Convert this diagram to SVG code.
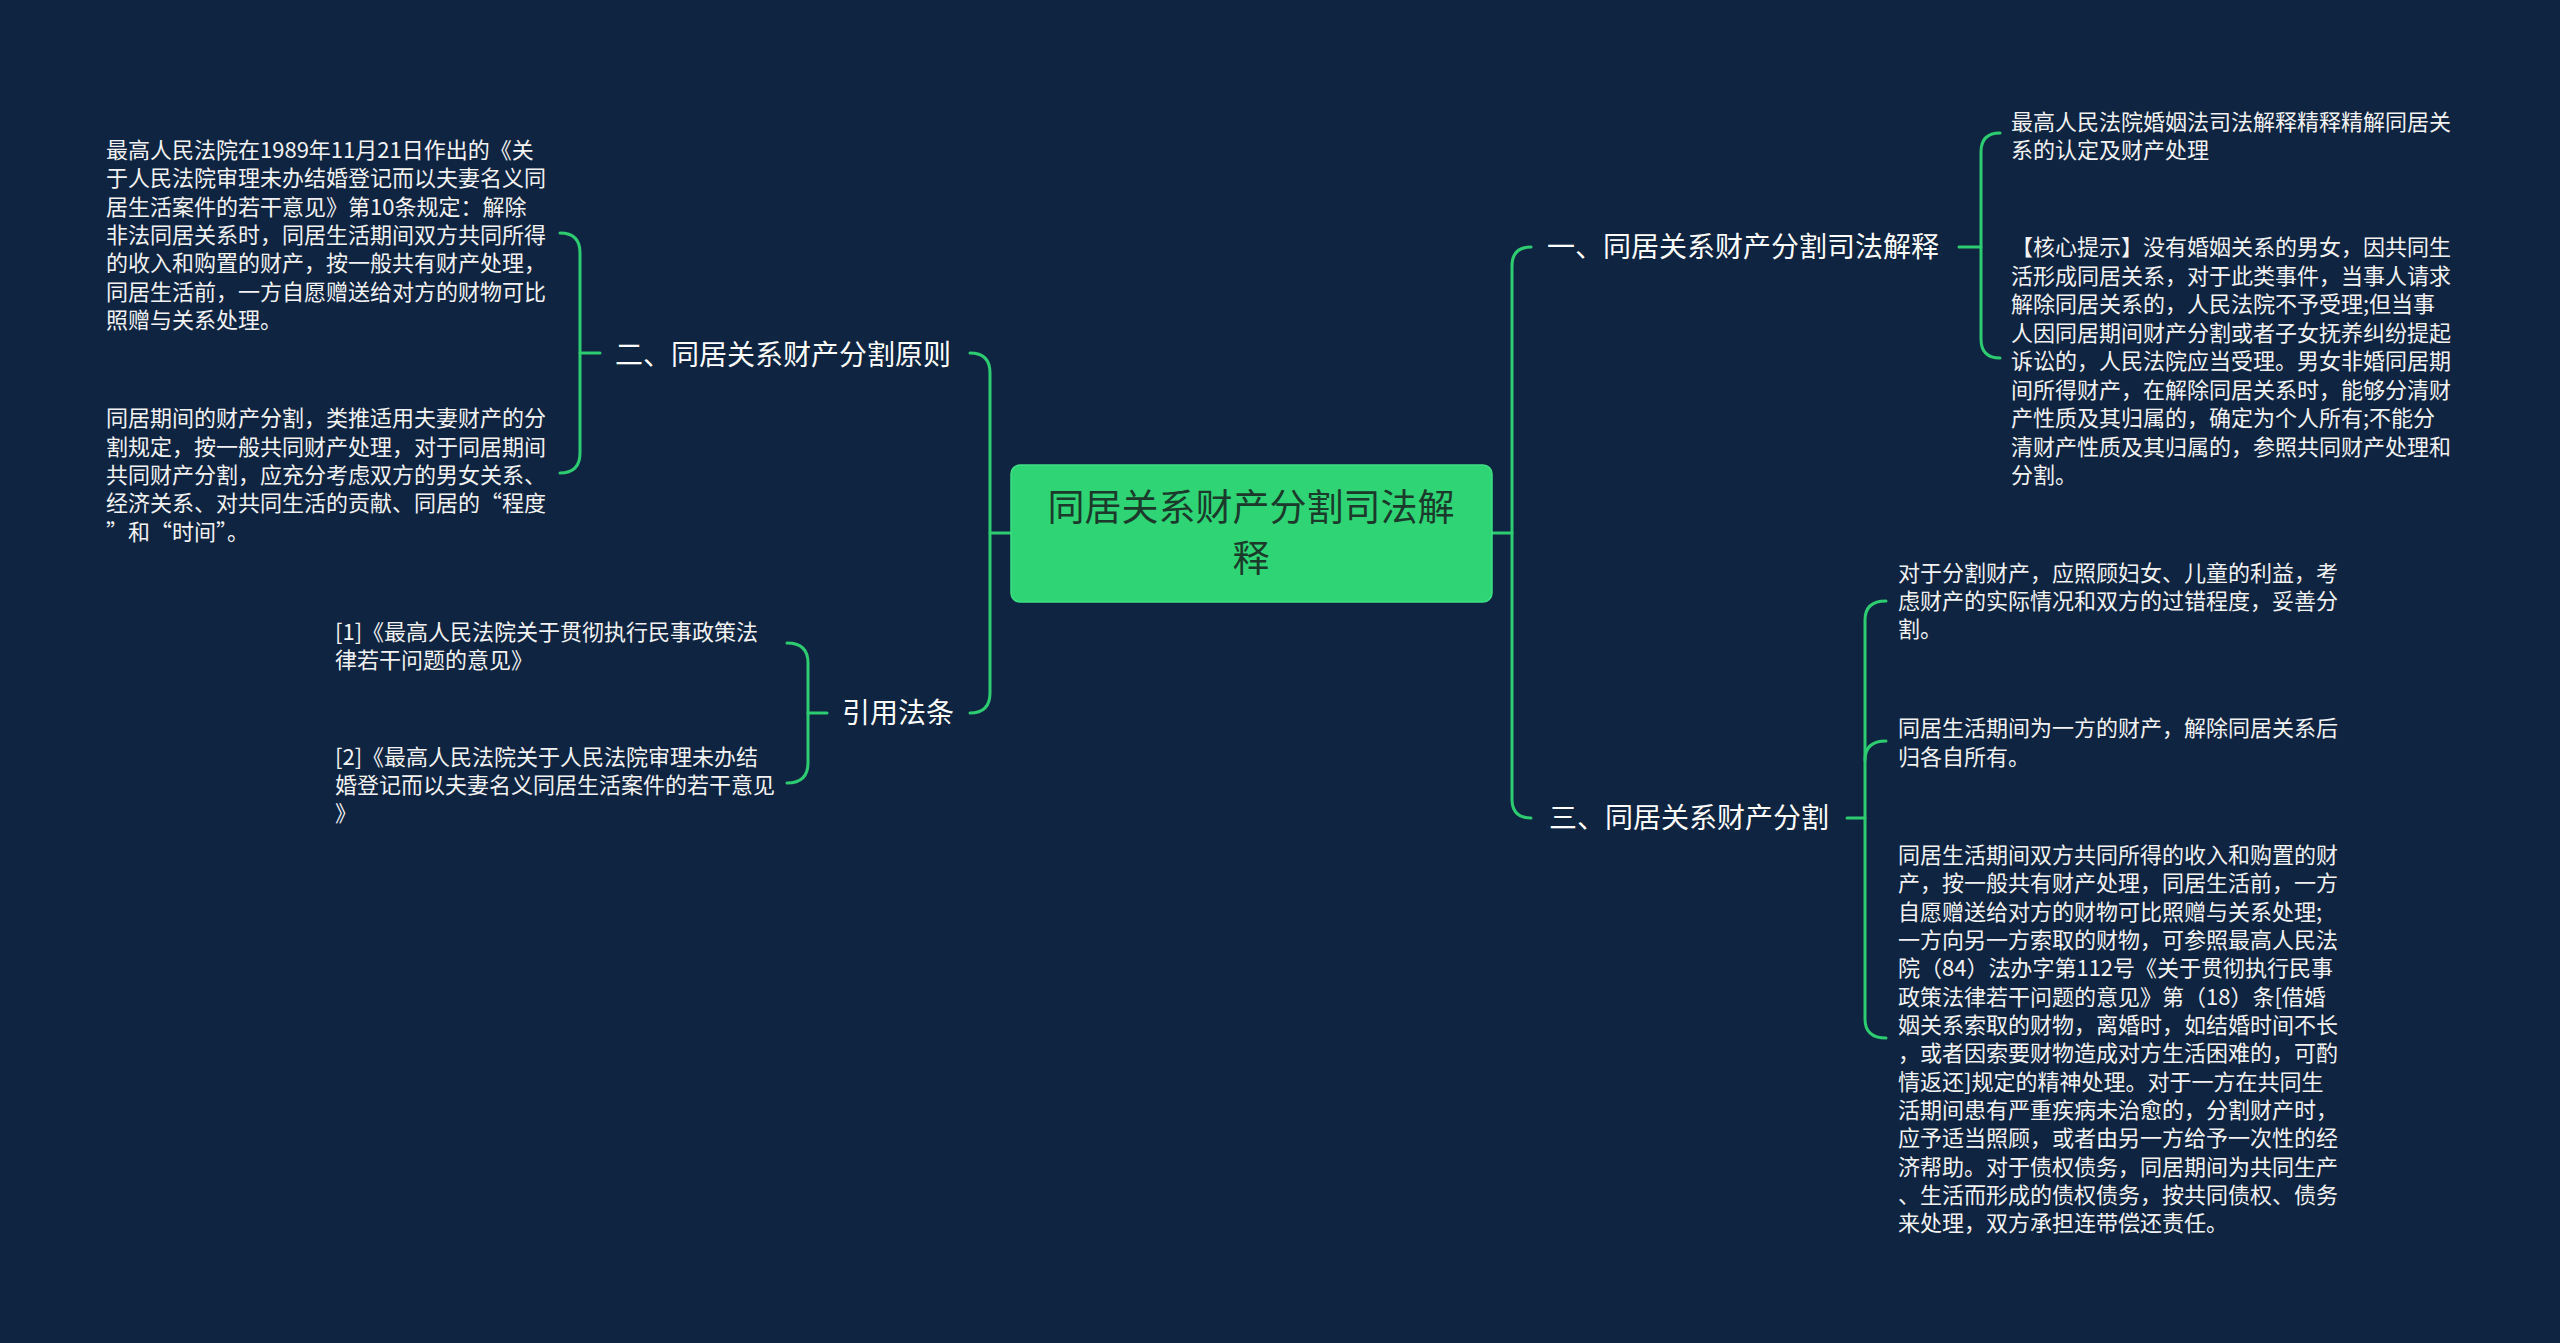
<svg xmlns="http://www.w3.org/2000/svg" width="2560" height="1343" viewBox="0 0 2560 1343">
<style>
.bg{fill:#0f2440}
.ln{fill:none;stroke:#2ecc71;stroke-width:3;stroke-linecap:round}
.t{font-family:"Noto Sans CJK SC","Noto Sans",sans-serif;font-size:22px;fill:#f2f2f2}
.lb{font-family:"Noto Sans CJK SC","Noto Sans",sans-serif;font-size:28px;fill:#ffffff}
.rt{font-family:"Noto Sans CJK SC","Noto Sans",sans-serif;font-size:37px;fill:#1b3a2b;text-anchor:middle}
</style>
<rect class="bg" x="0" y="0" width="2560" height="1343"/>
<g id="connectors">
<path class="ln" d="M1011 533 L990 533"/>
<path class="ln" d="M970 353 Q990 353 990 373 L990 693 Q990 713 970 713"/>
<path class="ln" d="M1492 533 L1512 533"/>
<path class="ln" d="M1531 247 Q1512 247 1512 266 L1512 799 Q1512 818 1531 818"/>
<path class="ln" d="M600 353 L580 353"/>
<path class="ln" d="M560 233 Q580 233 580 253 L580 453 Q580 473 560 473"/>
<path class="ln" d="M827 713 L808 713"/>
<path class="ln" d="M787 643 Q808 643 808 663 L808 763 Q808 783 787 783"/>
<path class="ln" d="M1959 247 L1981 247"/>
<path class="ln" d="M2000 133 Q1981 133 1981 152 L1981 339 Q1981 358 2000 358"/>
<path class="ln" d="M1847 818 L1865 818"/>
<path class="ln" d="M1886 601 Q1865 601 1865 620 L1865 1019 Q1865 1038 1886 1038"/>
<path class="ln" d="M1865 760 Q1865 741 1886 741"/>
</g>
<g id="root">
<rect x="1011" y="465" width="481" height="137" rx="9" fill="#2fd574" stroke="#3ee084" stroke-width="1.5"/>
<text class="rt" x="1251" y="521">同居关系财产分割司法解</text>
<text class="rt" x="1251" y="572">释</text>
</g>
<g id="n2">
<text class="lb" x="615" y="365">二、同居关系财产分割原则</text>
</g>
<g id="n2a">
<text class="t" x="106" y="158">最高人民法院在1989年11月21日作出的《关</text>
<text class="t" x="106" y="186">于人民法院审理未办结婚登记而以夫妻名义同</text>
<text class="t" x="106" y="215">居生活案件的若干意见》第10条规定：解除</text>
<text class="t" x="106" y="243">非法同居关系时，同居生活期间双方共同所得</text>
<text class="t" x="106" y="271">的收入和购置的财产，按一般共有财产处理，</text>
<text class="t" x="106" y="300">同居生活前，一方自愿赠送给对方的财物可比</text>
<text class="t" x="106" y="328">照赠与关系处理。</text>
</g>
<g id="n2b">
<text class="t" x="106" y="426">同居期间的财产分割，类推适用夫妻财产的分</text>
<text class="t" x="106" y="455">割规定，按一般共同财产处理，对于同居期间</text>
<text class="t" x="106" y="483">共同财产分割，应充分考虑双方的男女关系、</text>
<text class="t" x="106" y="511">经济关系、对共同生活的贡献、同居的“程度</text>
<text class="t" x="106" y="540">”和“时间”。</text>
</g>
<g id="nref">
<text class="lb" x="842" y="723">引用法条</text>
</g>
<g id="nref1">
<text class="t" x="335" y="640">[1]《最高人民法院关于贯彻执行民事政策法</text>
<text class="t" x="335" y="668">律若干问题的意见》</text>
</g>
<g id="nref2">
<text class="t" x="335" y="765">[2]《最高人民法院关于人民法院审理未办结</text>
<text class="t" x="335" y="793">婚登记而以夫妻名义同居生活案件的若干意见</text>
<text class="t" x="335" y="821">》</text>
</g>
<g id="n1">
<text class="lb" x="1547" y="257">一、同居关系财产分割司法解释</text>
</g>
<g id="n1a">
<text class="t" x="2011" y="130">最高人民法院婚姻法司法解释精释精解同居关</text>
<text class="t" x="2011" y="158">系的认定及财产处理</text>
</g>
<g id="n1b">
<text class="t" x="2011" y="255">【核心提示】没有婚姻关系的男女，因共同生</text>
<text class="t" x="2011" y="284">活形成同居关系，对于此类事件，当事人请求</text>
<text class="t" x="2011" y="312">解除同居关系的，人民法院不予受理;但当事</text>
<text class="t" x="2011" y="341">人因同居期间财产分割或者子女抚养纠纷提起</text>
<text class="t" x="2011" y="369">诉讼的，人民法院应当受理。男女非婚同居期</text>
<text class="t" x="2011" y="398">间所得财产，在解除同居关系时，能够分清财</text>
<text class="t" x="2011" y="426">产性质及其归属的，确定为个人所有;不能分</text>
<text class="t" x="2011" y="455">清财产性质及其归属的，参照共同财产处理和</text>
<text class="t" x="2011" y="483">分割。</text>
</g>
<g id="n3">
<text class="lb" x="1549" y="828">三、同居关系财产分割</text>
</g>
<g id="n3a">
<text class="t" x="1898" y="581">对于分割财产，应照顾妇女、儿童的利益，考</text>
<text class="t" x="1898" y="609">虑财产的实际情况和双方的过错程度，妥善分</text>
<text class="t" x="1898" y="637">割。</text>
</g>
<g id="n3b">
<text class="t" x="1898" y="736">同居生活期间为一方的财产，解除同居关系后</text>
<text class="t" x="1898" y="765">归各自所有。</text>
</g>
<g id="n3c">
<text class="t" x="1898" y="863">同居生活期间双方共同所得的收入和购置的财</text>
<text class="t" x="1898" y="891">产，按一般共有财产处理，同居生活前，一方</text>
<text class="t" x="1898" y="920">自愿赠送给对方的财物可比照赠与关系处理;</text>
<text class="t" x="1898" y="948">一方向另一方索取的财物，可参照最高人民法</text>
<text class="t" x="1898" y="976">院（84）法办字第112号《关于贯彻执行民事</text>
<text class="t" x="1898" y="1005">政策法律若干问题的意见》第（18）条[借婚</text>
<text class="t" x="1898" y="1033">姻关系索取的财物，离婚时，如结婚时间不长</text>
<text class="t" x="1898" y="1061">，或者因索要财物造成对方生活困难的，可酌</text>
<text class="t" x="1898" y="1090">情返还]规定的精神处理。对于一方在共同生</text>
<text class="t" x="1898" y="1118">活期间患有严重疾病未治愈的，分割财产时，</text>
<text class="t" x="1898" y="1146">应予适当照顾，或者由另一方给予一次性的经</text>
<text class="t" x="1898" y="1175">济帮助。对于债权债务，同居期间为共同生产</text>
<text class="t" x="1898" y="1203">、生活而形成的债权债务，按共同债权、债务</text>
<text class="t" x="1898" y="1231">来处理，双方承担连带偿还责任。</text>
</g>
</svg>
